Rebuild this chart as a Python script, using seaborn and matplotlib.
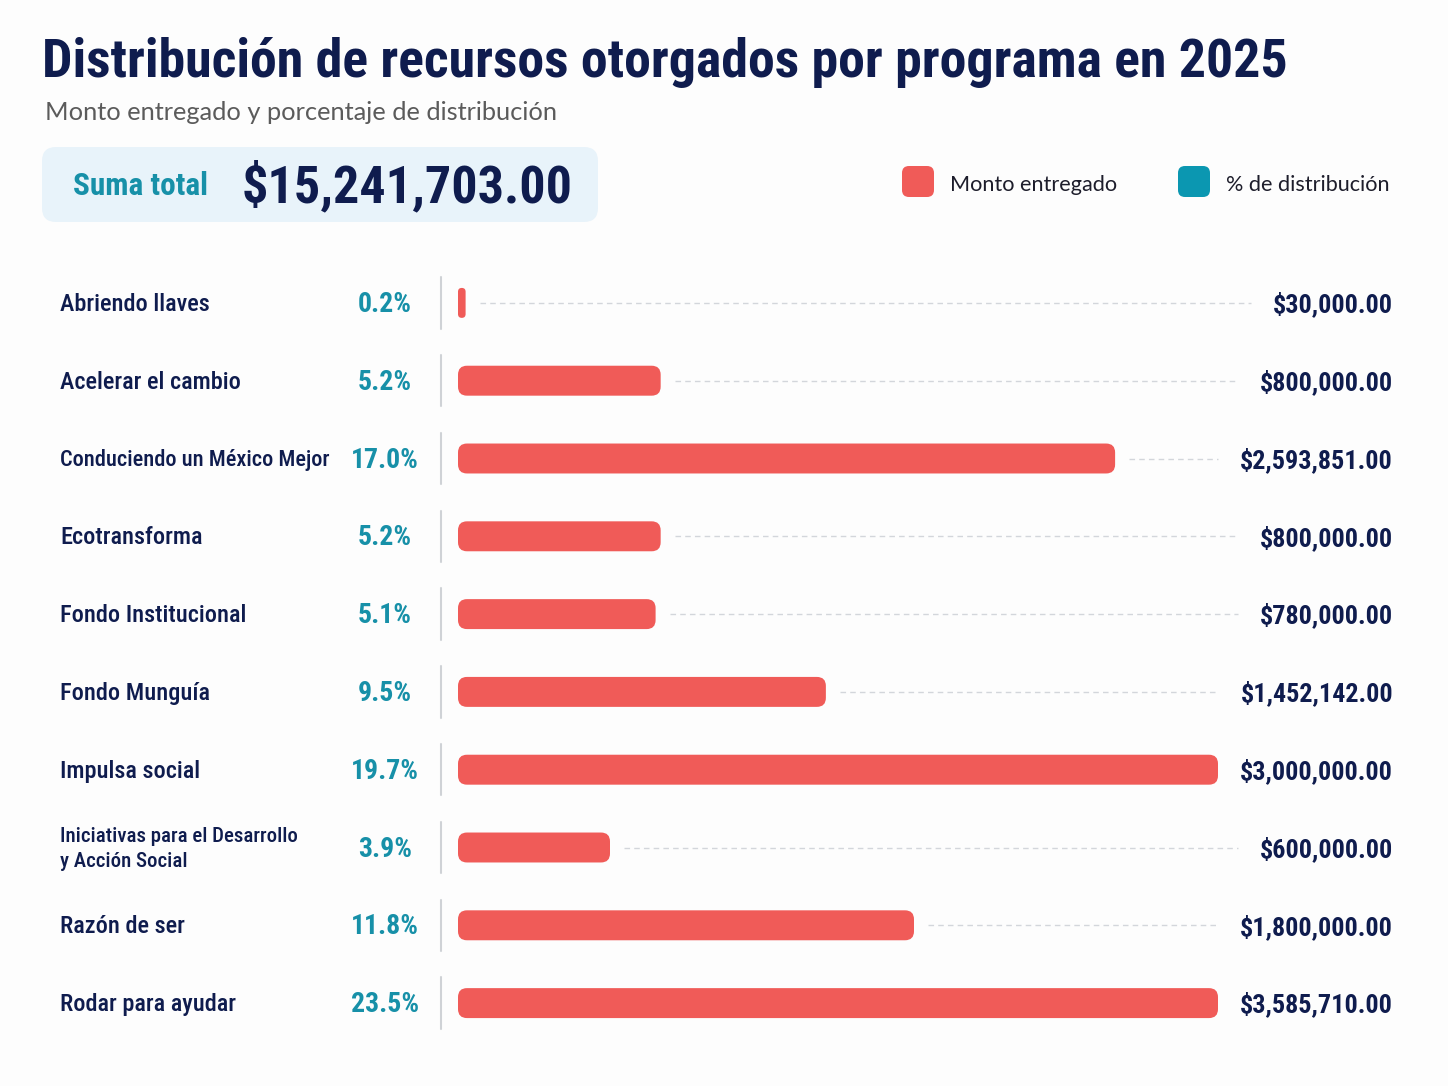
import numpy as np
import pandas as pd
import matplotlib.pyplot as plt
import seaborn as sns
from matplotlib.patches import FancyBboxPatch

# Data
programas = [
    "Abriendo llaves",
    "Acelerar el cambio",
    "Conduciendo un México Mejor",
    "Ecotransforma",
    "Fondo Institucional",
    "Fondo Munguía",
    "Impulsa social",
    "Iniciativas para el Desarrollo\ny Acción Social",
    "Razón de ser",
    "Rodar para ayudar",
]
montos = [30000, 800000, 2593851, 800000, 780000, 1452142, 3000000, 600000, 1800000, 3585710]
porcentajes = [0.2, 5.2, 17.0, 5.2, 5.1, 9.5, 19.7, 3.9, 11.8, 23.5]
suma_total = 15241703.00

titulo = "Distribución de recursos otorgados por programa en 2025"
subtitulo = "Monto entregado y porcentaje de distribución"
etiqueta_total = "Suma total"
leyenda = ["Monto entregado", "% de distribución"]

# colours
NAVY = "#0f1c4e"
TEAL = "#1790a8"
TEAL_KEY = "#0b97b1"
RED = "#f05b58"
BG = "#fdfdfd"
BOX = "#e8f3fa"
SEP = "#cfd2d6"
LEADER = "#d3d6db"

W, H = 1448, 1086
X_MAX = 3.0e6  # bars top out at this amount in the source

sns.set_theme(style="white")
plt.rcParams["font.family"] = ["Roboto Condensed", "DejaVu Sans"]
SANS = ["Lato", "DejaVu Sans"]

fig = plt.figure(figsize=(W / 100, H / 100), dpi=100, facecolor=BG)

# pixel-space layer for the header
bg = fig.add_axes([0, 0, 1, 1], zorder=0)
bg.set_xlim(0, W)
bg.set_ylim(H, 0)
bg.axis("off")

bg.text(42, 77, titulo, fontsize=38.8, fontweight="heavy", color=NAVY, va="baseline", ha="left")
bg.text(45, 120, subtitulo, fontsize=18.3, color="#5b5b5b", family=SANS, va="baseline", ha="left")

bg.add_patch(FancyBboxPatch((42, 147), 556, 75, boxstyle="round,pad=0,rounding_size=14",
                            fc=BOX, ec="none"))
bg.text(73, 195, etiqueta_total, fontsize=22.5, fontweight="bold", color=TEAL, va="baseline")
bg.text(242, 202, f"${suma_total:,.2f}", fontsize=37.5, fontweight="heavy", color=NAVY, va="baseline")

# legend keys
for x_key, col, lab in [(902, RED, leyenda[0]), (1178, TEAL_KEY, leyenda[1])]:
    bg.add_patch(FancyBboxPatch((x_key, 166), 32, 31, boxstyle="round,pad=0,rounding_size=7",
                                fc=col, ec="none"))
    bg.text(x_key + 48, 191, lab, fontsize=15.6, color="#1d1d2b", family=SANS, va="baseline")

# main bar axes
ax = fig.add_axes([458 / W, 1 - 1042 / H, 760 / W, 778 / H], zorder=1)
ax.patch.set_alpha(0)

df = pd.DataFrame({"programa": programas, "monto": montos, "pct": porcentajes})
df["barra"] = df["monto"].clip(upper=X_MAX)

sns.barplot(data=df, y="programa", x="barra", color=RED, saturation=1,
            width=0.385, ax=ax)
ax.set_xlim(0, X_MAX)
ax.set_ylim(len(df) - 0.5, -0.5)
ax.axis("off")

# rounded ends on the bars
px_x = X_MAX / 760
px_y = 1 / 77.8
for bar in list(ax.patches):
    x0, y0 = bar.get_x(), bar.get_y()
    w, h = bar.get_width(), bar.get_height()
    r = min(9 * px_x, w / 2)
    bar.remove()
    ax.add_patch(FancyBboxPatch((x0, y0), w, h, boxstyle=f"round,pad=0,rounding_size={r}",
                                mutation_aspect=px_y / px_x, fc=RED, ec="none", zorder=2))


def ax_x(px):
    return (px - 458) / 760


tr = ax.get_yaxis_transform()
label_txt, value_txt = [], []
for i, row in df.iterrows():
    multi = "\n" in row.programa
    t = ax.text(ax_x(60), i + 0.02, row.programa, transform=tr, ha="left", va="center",
                fontsize=15 if multi else 17.5, fontweight="medium", color=NAVY,
                linespacing=1.35)
    label_txt.append(t)
    ax.text(ax_x(385), i + 0.02, f"{row.pct:.1f}%", transform=tr, ha="center", va="center",
            fontsize=20, fontweight="bold", color=TEAL)
    ax.plot([ax_x(441)] * 2, [i - 0.33, i + 0.33], transform=tr, color=SEP, lw=1.5,
            clip_on=False)
    t = ax.text(ax_x(1393), i + 0.02, f"${row.monto:,.2f}", transform=tr, ha="right",
                va="center", fontsize=18.8, fontweight="bold", color=NAVY)
    value_txt.append(t)

fig.canvas.draw()
# long names get squeezed into the label column
for t in label_txt:
    wpx = t.get_window_extent().width
    if wpx > 270:
        t.set_fontsize(t.get_fontsize() * 270 / wpx)

# dashed leaders from bar end to the amount label
inv = ax.transData.inverted()
for i, row in df.iterrows():
    x_txt = value_txt[i].get_window_extent().x0
    end = inv.transform((x_txt - 22, 0))[0]
    start = row.barra + 14 * px_x
    if start < end:
        ax.plot([start, end], [i, i], color=LEADER, lw=1, dashes=(4, 3), clip_on=False, zorder=1)

fig.savefig("out.png", dpi=100, facecolor=BG)
